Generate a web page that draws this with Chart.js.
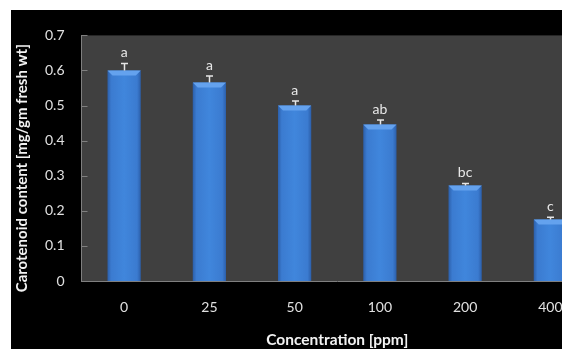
<!DOCTYPE html>
<html>
<head>
<meta charset="utf-8">
<script src="https://cdn.jsdelivr.net/npm/chart.js@4.4.0/dist/chart.umd.min.js"></script>
<style>
  html, body { margin: 0; padding: 0; background: #fff; width: 562px; height: 349px; overflow: hidden; }
  #frame { position: absolute; left: 11px; top: 10px; width: 551px; height: 339px; background: #000; overflow: hidden; }
  #frame canvas { position: absolute; left: 0; top: 0; }
</style>
</head>
<body>
<div id="frame"><canvas id="chart" width="590" height="339" style="width:590px;height:339px"></canvas></div>
<script>
// data
const concentrations = ['0', '25', '50', '100', '200', '400'];
const carotenoid = [0.60, 0.566, 0.50, 0.446, 0.272, 0.175];
const errors = [0.02, 0.018, 0.013, 0.013, 0.006, 0.007];
const letters = ['a', 'a', 'a', 'ab', 'bc', 'c'];
const yTicks = [0, 0.1, 0.2, 0.3, 0.4, 0.5, 0.6, 0.7];
const yTitle = 'Carotenoid content [mg/gm fresh wt]';

const FONT = 'Lato, "Open Sans", sans-serif';

// gradient across each bar, darker at the edges
const barFill = (c) => {
  const sx = c.chart.scales.x;
  if (!sx || c.dataIndex === undefined) return '#3a7bd0';
  const cx = sx.getPixelForValue(c.dataIndex);
  if (!isFinite(cx)) return '#3a7bd0';
  const half = 17;
  const g = c.chart.ctx.createLinearGradient(cx - half, 0, cx + half, 0);
  g.addColorStop(0, '#2a5ca6');
  g.addColorStop(0.12, '#3b7bd0');
  g.addColorStop(0.5, '#4086dc');
  g.addColorStop(0.88, '#3b7bd0');
  g.addColorStop(1, '#2a5ca6');
  return g;
};

const plotBg = {
  id: 'plotBg',
  beforeDraw(chart) {
    const { ctx, chartArea: a } = chart;
    ctx.save();
    ctx.fillStyle = '#404040';
    ctx.fillRect(a.left, a.top, a.right - a.left, a.bottom - a.top);
    ctx.restore();
  }
};

const extras = {
  id: 'extras',
  afterDatasetsDraw(chart) {
    const { ctx, scales: { y } } = chart;
    const a = chart.chartArea;
    const meta = chart.getDatasetMeta(0);
    ctx.save();
    // small inward tick marks on the value axis
    ctx.strokeStyle = '#7f7f7f';
    ctx.lineWidth = 1;
    yTicks.forEach(v => {
      const py = Math.round(y.getPixelForValue(v)) + 0.5;
      ctx.beginPath();
      ctx.moveTo(a.left, py);
      ctx.lineTo(a.left + 6, py);
      ctx.stroke();
    });
    meta.data.forEach((bar, i) => {
      const left = bar.x - bar.width / 2;
      const right = bar.x + bar.width / 2;
      const top = bar.y;
      // bevel on top of bar
      ctx.fillStyle = '#64a2ee';
      ctx.beginPath();
      ctx.moveTo(left, top);
      ctx.lineTo(right, top);
      ctx.lineTo(right - 5, top + 5);
      ctx.lineTo(left + 5, top + 5);
      ctx.closePath();
      ctx.fill();
      // error bar
      const yTop = y.getPixelForValue(carotenoid[i] + errors[i]);
      const cx = Math.round(bar.x) + 0.5;
      ctx.strokeStyle = '#e6e6e6';
      ctx.lineWidth = 1.5;
      ctx.beginPath();
      ctx.moveTo(cx, top);
      ctx.lineTo(cx, yTop);
      ctx.moveTo(cx - 3.5, yTop);
      ctx.lineTo(cx + 3.5, yTop);
      ctx.stroke();
      // significance letters
      ctx.fillStyle = '#e8e8e8';
      ctx.font = '14px ' + FONT;
      ctx.textAlign = 'center';
      ctx.textBaseline = 'alphabetic';
      ctx.fillText(letters[i], bar.x, yTop - 6);
    });
    // value axis title, sitting a little below the plot's middle as in the original
    ctx.translate(11, (a.top + a.bottom) / 2 + 10);
    ctx.rotate(-Math.PI / 2);
    ctx.fillStyle = '#f2f2f2';
    ctx.font = 'bold 15px ' + FONT;
    ctx.textAlign = 'center';
    ctx.textBaseline = 'middle';
    ctx.fillText(yTitle, 0, 0);
    ctx.restore();
  }
};

new Chart(document.getElementById('chart'), {
  type: 'bar',
  data: {
    labels: concentrations,
    datasets: [{
      data: carotenoid,
      backgroundColor: barFill,
      borderWidth: 0,
      barPercentage: 0.39,
      categoryPercentage: 1
    }]
  },
  options: {
    responsive: false,
    animation: false,
    layout: { padding: { left: 0, right: 8, top: 7, bottom: 0 } },
    plugins: { legend: { display: false }, tooltip: { enabled: false } },
    scales: {
      x: {
        grid: { display: false, drawTicks: false },
        border: { display: true, color: '#7f7f7f', width: 1 },
        ticks: { color: '#e0e0e0', font: { family: FONT, size: 14 }, padding: 18 },
        title: {
          display: true,
          text: 'Concentration [ppm]',
          color: '#f2f2f2',
          font: { family: FONT, size: 15.5, weight: 'bold' },
          padding: { top: 16, bottom: 0 }
        },
        afterFit(s) { s.height = 68; }
      },
      y: {
        min: 0,
        max: 0.7,
        afterBuildTicks(s) { s.ticks = yTicks.map(v => ({ value: v })); },
        grid: { display: false, drawTicks: false },
        border: { display: true, color: '#7f7f7f', width: 1 },
        ticks: {
          color: '#e0e0e0',
          font: { family: FONT, size: 14 },
          padding: 17,
          callback: v => String(+v.toFixed(1))
        },
        afterFit(s) { s.width = 70.5; }
      }
    }
  },
  plugins: [plotBg, extras]
});
</script>
</body>
</html>
